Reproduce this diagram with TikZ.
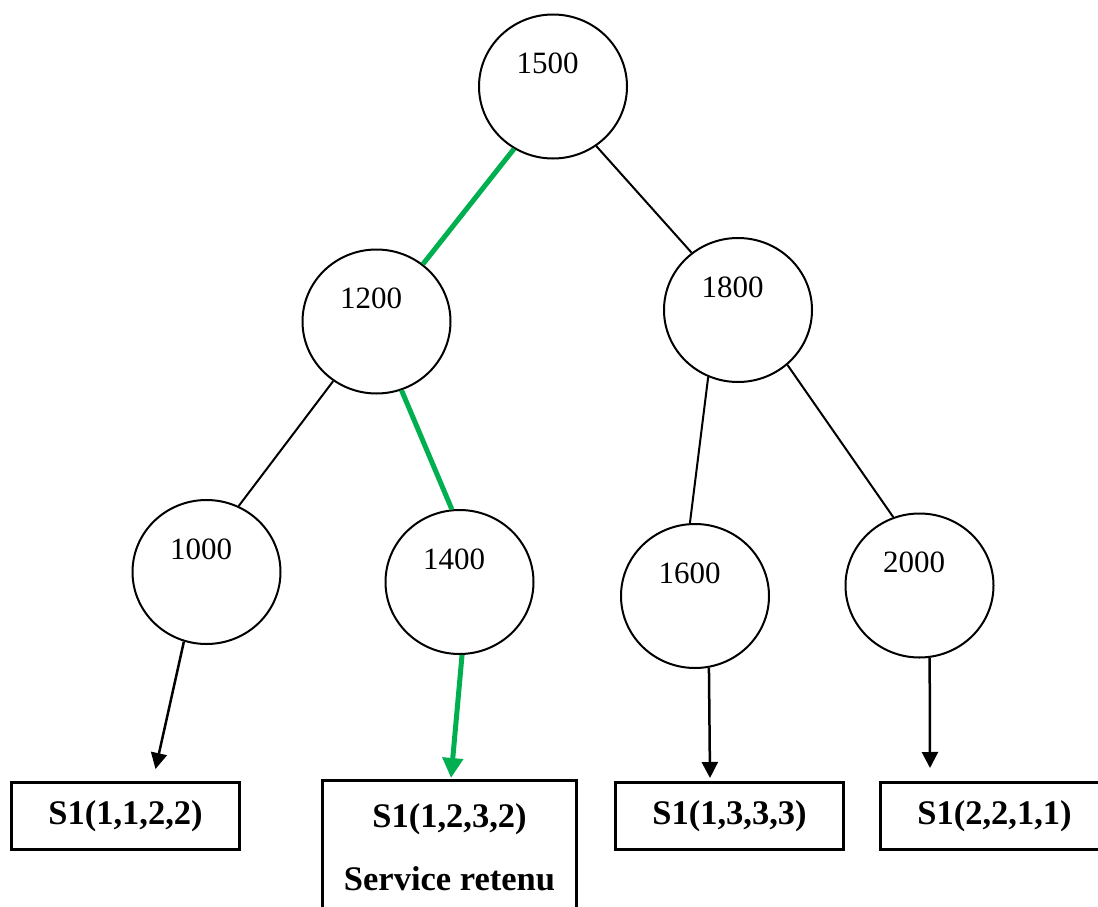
\documentclass[tikz,border=0pt]{standalone}
\usepackage{fontspec}
\setmainfont{Liberation Serif}
\usetikzlibrary{arrows.meta,shapes.geometric,calc}
\definecolor{tgreen}{RGB}{0,176,80}
\tikzset{
  valnode/.style={ellipse,draw,line width=2pt,minimum width=148pt,minimum height=144pt,inner sep=0pt},
  numtxt/.style={inner sep=0pt,font=\fontsize{31}{36}\selectfont},
  svcbox/.style={rectangle,draw,line width=3pt,minimum width=228pt,minimum height=67pt,inner sep=0pt,
    font=\fontsize{34.5}{63}\selectfont\bfseries,align=center},
  edgeline/.style={line width=2pt},
  greenline/.style={line width=5pt,draw=tgreen},
  arr/.style={line width=2.5pt,-{Triangle[length=16pt,width=16pt]}},
  greenarr/.style={line width=5pt,draw=tgreen,-{Triangle[length=20pt,width=20pt,fill=tgreen]}}
}
\begin{document}
\begin{tikzpicture}[x=1pt,y=-1pt]
\useasboundingbox (0,0) rectangle (1098,907);
\clip (0,0) rectangle (1098,907);
\fill[white] (0,0) rectangle (1098,907);

% value nodes
\node[valnode] (n1500) at (553,86.5) {};
\node[valnode] (n1200) at (376.5,321.5) {};
\node[valnode] (n1800) at (738,310) {};
\node[valnode] (n1000) at (206.5,572) {};
\node[valnode] (n1400) at (459.5,582) {};
\node[valnode] (n1600) at (695,596) {};
\node[valnode] (n2000) at (919.5,585.5) {};

\node[numtxt] (l1500) at ($(n1500)+(-5.5,-23)$) {1500};
\node[numtxt] (l1200) at ($(n1200)+(-5.5,-23)$) {1200};
\node[numtxt] (l1800) at ($(n1800)+(-5.5,-23)$) {1800};
\node[numtxt] (l1000) at ($(n1000)+(-5.5,-23)$) {1000};
\node[numtxt] (l1400) at ($(n1400)+(-5.5,-23)$) {1400};
\node[numtxt] (l1600) at ($(n1600)+(-5.5,-23)$) {1600};
\node[numtxt] (l2000) at ($(n2000)+(-5.5,-23)$) {2000};

% service boxes
\node[svcbox] (b1) at (125.5,816) {S1(1,1,2,2)};
\node[svcbox,minimum width=254pt,minimum height=134pt] (b2) at (449.5,847.5) {S1(1,2,3,2)\\Service retenu};
\node[svcbox] (b3) at (729.5,816) {S1(1,3,3,3)};
\node[svcbox] (b4) at (994.5,816) {S1(2,2,1,1)};

% arrow targets
\coordinate (t1) at (155.5,769);
\coordinate (t2) at (451,778);
\coordinate (t3) at (710,778);
\coordinate (t4) at (930,768);

% tree edges
\draw[greenline] (n1500.238) -- (n1200.51);
\draw[edgeline] (n1500.306) -- (n1800.129);
\draw[edgeline] (n1200.234) -- (n1000.64);
\draw[greenline] (n1200.290) -- (n1400.96);
\draw[edgeline] (n1800.246) -- (n1600.94);
\draw[edgeline] (n1800.312) -- (n2000.111);

% arrows to services
\draw[arr] (n1000.252) -- (t1);
\draw[greenarr] (n1400.272) -- (t2);
\draw[arr] (n1600.281.5) -- (t3);
\draw[arr] (n2000.278) -- (t4);
\end{tikzpicture}
\end{document}
